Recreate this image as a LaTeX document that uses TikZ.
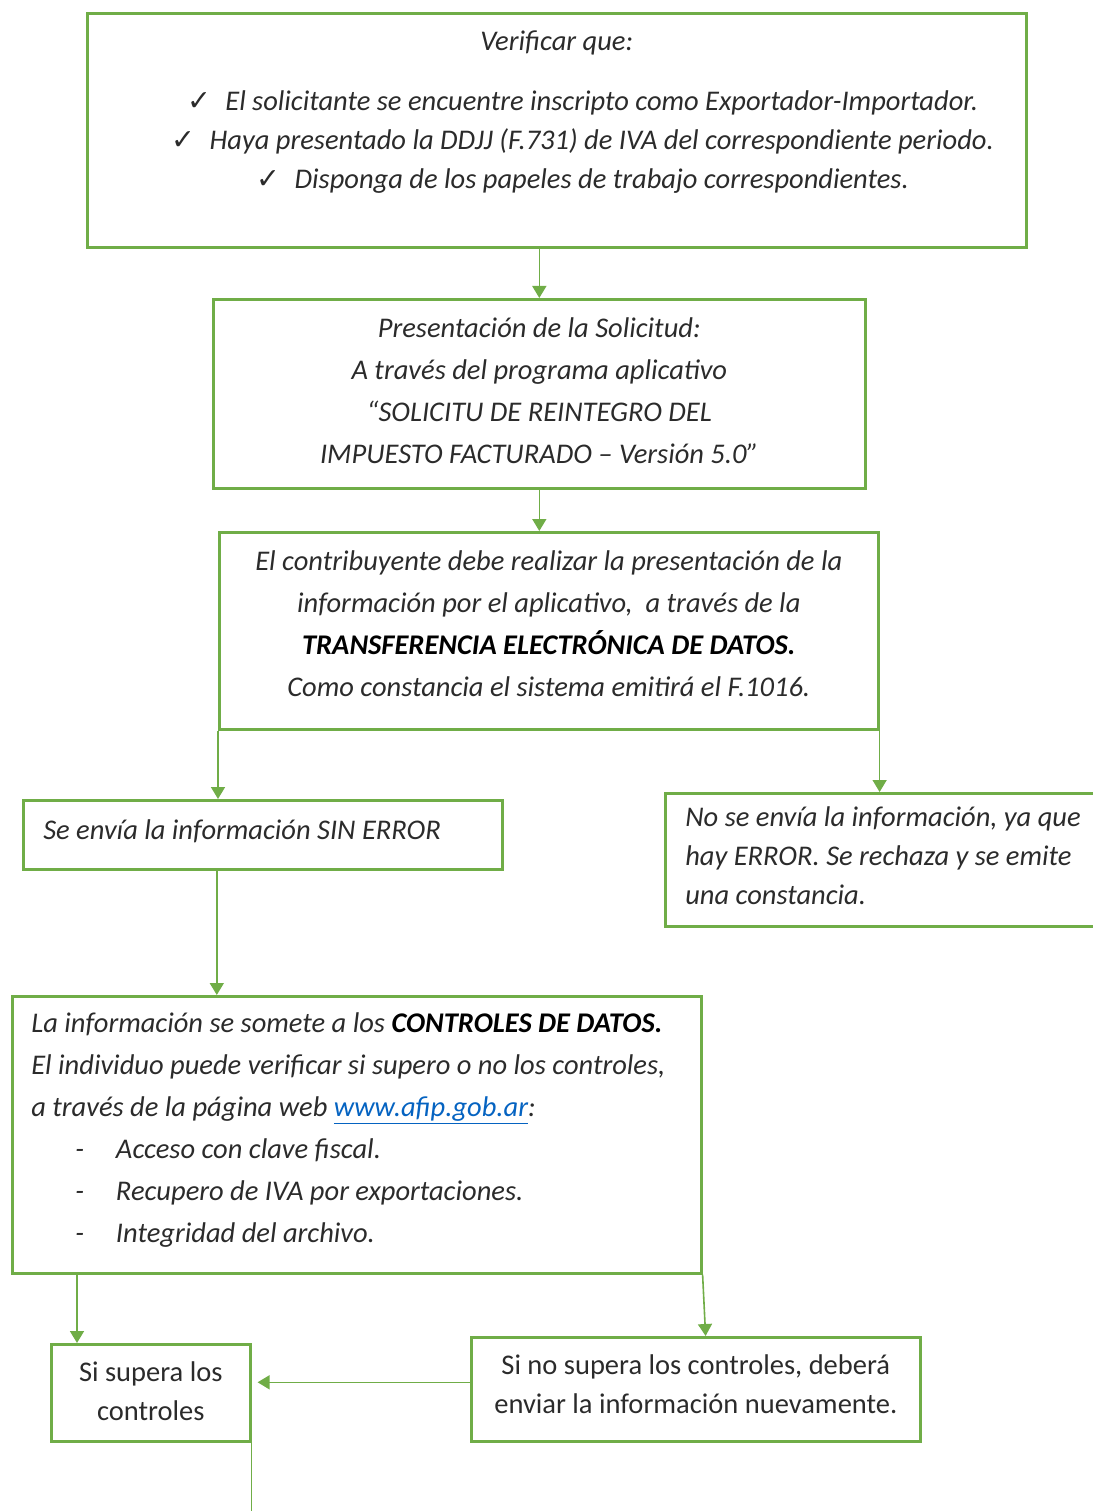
\documentclass[tikz,border=0pt]{standalone}
\usepackage{fontspec}
\setmainfont{Carlito}
\newfontfamily\checkfont{DejaVu Sans}
\usepackage{tikz}
\usetikzlibrary{arrows.meta,positioning,calc}
\definecolor{boxgreen}{HTML}{70AD47}
\definecolor{txtgray}{HTML}{2B2B2B}
\definecolor{linkblue}{HTML}{0563C1}
\newcommand{\chk}{{\checkfont\upshape ✓}}
\newcommand{\lift}[1]{\rule[-#1]{0pt}{0pt}}

\begin{document}
\begin{tikzpicture}[x=1pt, y=-1pt,
  box/.style={draw=boxgreen, line width=2.6pt, anchor=north west, inner sep=0pt,
    text=txtgray, font=\fontsize{28.5}{39}\selectfont\itshape},
  arr/.style={draw=boxgreen, line width=1.6pt, -{Triangle[width=14pt,length=12pt]}}]
  \useasboundingbox (0,0) rectangle (1092,1511);

  % Nodes
  \node[box, minimum width=939pt, minimum height=234pt, align=center] (b1) at (86,12)
    {Verificar que:\\[21pt]
     \hspace*{52pt}\chk\hspace{14pt}El solicitante se encuentre inscripto como Exportador-Importador.\\
     \hspace*{52pt}\chk\hspace{14pt}Haya presentado la DDJJ (F.731) de IVA del correspondiente periodo.\\
     \hspace*{52pt}\chk\hspace{14pt}Disponga de los papeles de trabajo correspondientes.\\[-10pt]
     \strut};
  \node[box, minimum width=652pt, minimum height=189pt, align=center,
    font=\fontsize{28.5}{42}\selectfont\itshape] (b2) at (212,298)
    {Presentación de la Solicitud:\\
     A través del programa aplicativo\\
     “SOLICITU DE REINTEGRO DEL\\
     IMPUESTO FACTURADO – Versión 5.0”\lift{6pt}};
  \node[box, minimum width=659pt, minimum height=197pt, align=center,
    font=\fontsize{28.5}{42}\selectfont\itshape] (b3) at (218,531)
    {El contribuyente debe realizar la presentación de la\\
     información por el aplicativo, \ a través de la\\
     {\bfseries\color{black}TRANSFERENCIA ELECTRÓNICA DE DATOS.}\\
     Como constancia el sistema emitirá el F.1016.\lift{14pt}};
  \node[box, inner xsep=20pt, text width=439pt, minimum height=69pt, align=flush left] (b4) at (22,799)
    {Se envía la información SIN ERROR\lift{10pt}};
  \node[box, inner xsep=20pt, text width=400pt, minimum height=133pt, align=flush left] (b5) at (664,792)
    {No se envía la información, ya que\\
     hay ERROR. Se rechaza y se emite\\
     una constancia.\lift{8pt}};
  \node[box, inner xsep=19pt, text width=651pt, minimum height=277pt, align=flush left,
    font=\fontsize{28.5}{42}\selectfont\itshape] (b6) at (11,995)
    {La información se somete a los {\bfseries\color{black}CONTROLES DE DATOS.}\\
     El individuo puede verificar si supero o no los controles,\\
     a través de la página web {\color{linkblue}\underline{www.afip.gob.ar}}:\\
     \hspace*{44pt}-\hspace*{32pt}Acceso con clave fiscal.\\
     \hspace*{44pt}-\hspace*{32pt}Recupero de IVA por exportaciones.\\
     \hspace*{44pt}-\hspace*{32pt}Integridad del archivo.\lift{14pt}};
  \node[box, minimum width=199pt, minimum height=97pt, align=center,
    font=\fontsize{28.5}{39}\selectfont] (b7) at (50,1343)
    {Si supera los\\ controles\lift{4pt}};
  \node[box, minimum width=449pt, minimum height=104pt, align=center,
    font=\fontsize{28.5}{39}\selectfont] (b8) at (470,1336)
    {Si no supera los controles, deberá\\ enviar la información nuevamente.\lift{10pt}};
  \coordinate (out) at (249,1515);

  % Edges
  \draw[arr] (b2.north |- b1.south) -- (b2.north);
  \draw[arr] (b2.south) -- (b2.south |- b3.north);
  \draw[arr] (b3.south west) -- (b3.south west |- b4.north);
  \draw[arr] (b3.south east) -- (b3.south east |- b5.north);
  \draw[arr] ([xshift=-46pt]b4.south) -- ([xshift=-46pt]b4.south |- b6.north);
  \draw[arr] ([xshift=27pt]b7.north west |- b6.south) -- ([xshift=27pt]b7.north west);
  \draw[arr] (b6.south east) -- ([xshift=3pt]b6.south east |- b8.north);
  \draw[arr, shorten >=6pt] ([yshift=7pt]b8.west) -- ([yshift=7pt]b8.west -| b7.east);
  \draw[draw=boxgreen, line width=1.6pt] (b7.south east) -- (b7.south east |- out);
\end{tikzpicture}
\end{document}
